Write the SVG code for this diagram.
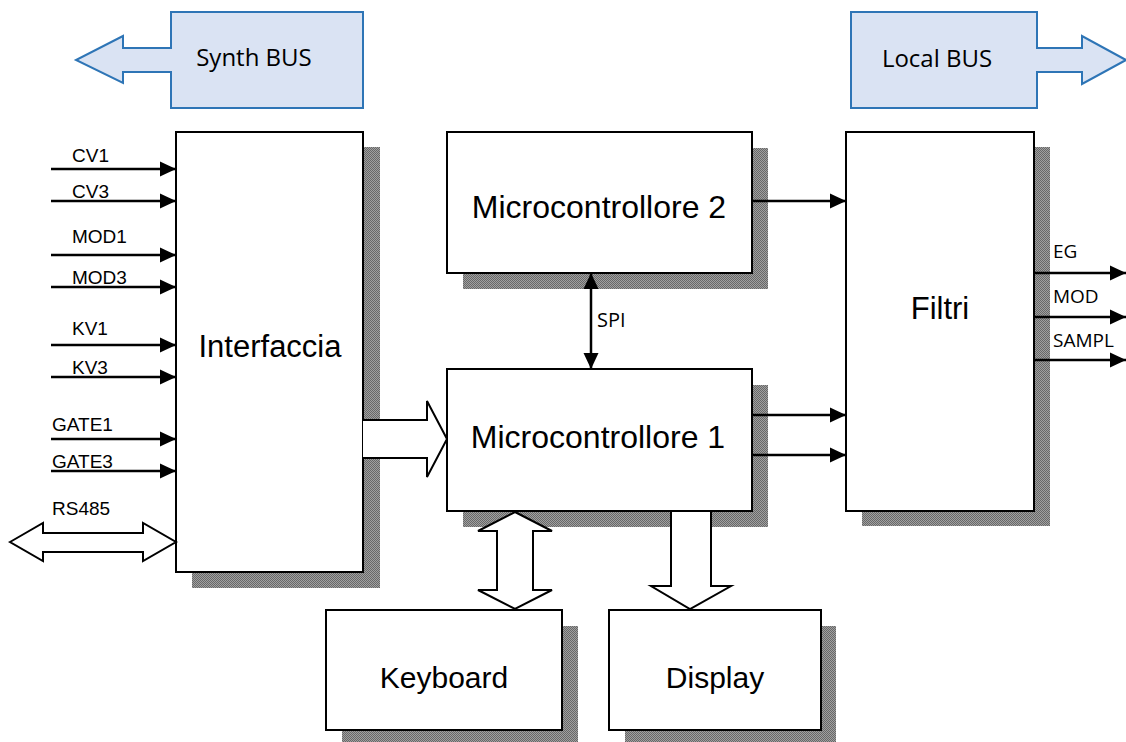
<svg xmlns="http://www.w3.org/2000/svg" width="1126" height="742" viewBox="0 0 1126 742">
  <defs>
    <!-- halftone fill used for the drop shadows -->
    <pattern id="halftone" width="2" height="2" patternUnits="userSpaceOnUse">
      <rect width="2" height="2" fill="#a0a0a0"/>
      <rect width="1" height="1" fill="#686868"/>
      <rect x="1" y="1" width="1" height="1" fill="#686868"/>
    </pattern>
    <marker id="head" viewBox="0 0 16 16" refX="16" refY="8" markerWidth="16" markerHeight="16" markerUnits="userSpaceOnUse" orient="auto-start-reverse">
      <path d="M0,0.5 L16,8 L0,15.5 Z" fill="#000"/>
    </marker>
    <style>
      .box { fill: #fff; stroke: #000; stroke-width: 2; }
      .shadow { fill: url(#halftone); }
      .bus { fill: #dae3f3; stroke: #2e75b6; stroke-width: 2; stroke-linejoin: miter; }
      .hollow { fill: #fff; stroke: #000; stroke-width: 2; stroke-linejoin: miter; }
      .wire { stroke: #000; stroke-width: 2.5; fill: none; marker-end: url(#head); }
      .title { font-family: "Liberation Sans", Arial, sans-serif; font-size: 31px; fill: #000; text-anchor: middle; }
      .busText { font-family: "Open Sans", "Liberation Sans", sans-serif; font-size: 24px; fill: #000; text-anchor: middle; }
      .sig { font-family: "Liberation Sans", Arial, sans-serif; font-size: 19px; fill: #000; }
      .sigR { font-family: "Open Sans", "Liberation Sans", sans-serif; font-size: 19px; fill: #000; }
    </style>
  </defs>

  <rect width="1126" height="742" fill="#fff"/>

  <!-- bus indicators -->
  <g id="synth-bus">
    <path class="bus" d="M171,12 L363,12 L363,108 L171,108 L171,72 L123,72 L123,83 L76,60 L123,36 L123,48 L171,48 Z"/>
    <text class="busText" x="254" y="66">Synth BUS</text>
  </g>
  <g id="local-bus">
    <path class="bus" d="M851,12 L1037,12 L1037,48 L1082,48 L1082,36 L1126,60 L1082,84 L1082,72 L1037,72 L1037,108 L851,108 Z"/>
    <text class="busText" x="937" y="67">Local BUS</text>
  </g>

  <!-- blocks -->
  <g id="interfaccia">
    <rect class="shadow" x="192" y="147" width="188" height="441"/>
    <rect class="box" x="176" y="132" width="187" height="440"/>
    <text class="title" x="270" y="357">Interfaccia</text>
  </g>
  <g id="micro2">
    <rect class="shadow" x="463" y="148" width="305" height="141"/>
    <rect class="box" x="447" y="132" width="305" height="141"/>
    <text class="title" x="599" y="218" style="font-size:32px">Microcontrollore 2</text>
  </g>
  <g id="micro1">
    <rect class="shadow" x="463" y="385" width="305" height="142"/>
    <rect class="box" x="447" y="369" width="305" height="142"/>
    <text class="title" x="598" y="448" style="font-size:32px">Microcontrollore 1</text>
  </g>
  <g id="filtri">
    <rect class="shadow" x="862" y="147" width="188" height="379"/>
    <rect class="box" x="846" y="132" width="188" height="379"/>
    <text class="title" x="940" y="319">Filtri</text>
  </g>
  <g id="keyboard">
    <rect class="shadow" x="342" y="626" width="236" height="116"/>
    <rect class="box" x="326" y="610" width="236" height="120"/>
    <text class="title" x="444" y="688" style="font-size:30px">Keyboard</text>
  </g>
  <g id="display">
    <rect class="shadow" x="625" y="626" width="211" height="116"/>
    <rect class="box" x="609" y="610" width="212" height="120"/>
    <text class="title" x="715" y="688" style="font-size:30px">Display</text>
  </g>

  <!-- connectors -->
  <g id="connectors">
    <!-- inputs to Interfaccia -->
    <line class="wire" x1="51" y1="169" x2="176" y2="169"/>
    <line class="wire" x1="51" y1="201" x2="176" y2="201"/>
    <line class="wire" x1="51" y1="255" x2="176" y2="255"/>
    <line class="wire" x1="51" y1="287" x2="176" y2="287"/>
    <line class="wire" x1="51" y1="345" x2="176" y2="345"/>
    <line class="wire" x1="51" y1="377" x2="176" y2="377"/>
    <line class="wire" x1="51" y1="439" x2="176" y2="439"/>
    <line class="wire" x1="51" y1="471" x2="176" y2="471"/>
    <path class="hollow" d="M10,542 L43,523 L43,533 L143,533 L143,523 L176,542 L143,561 L143,552 L43,552 L43,561 Z"/>

    <!-- Interfaccia to Microcontrollore 1 -->
    <path class="hollow" d="M363,420 L427,420 L427,401 L447,439 L427,477 L427,458 L363,458"/>

    <!-- SPI link -->
    <line class="wire" x1="591" y1="273" x2="591" y2="369" style="marker-start:url(#head)"/>

    <!-- microcontrollers to Filtri -->
    <line class="wire" x1="752" y1="201" x2="846" y2="201"/>
    <line class="wire" x1="752" y1="415" x2="846" y2="415"/>
    <line class="wire" x1="752" y1="455" x2="846" y2="455"/>

    <!-- Filtri outputs -->
    <line class="wire" x1="1034" y1="273" x2="1126" y2="273"/>
    <line class="wire" x1="1034" y1="317" x2="1126" y2="317"/>
    <line class="wire" x1="1034" y1="360" x2="1126" y2="360"/>

    <!-- Microcontrollore 1 to Keyboard / Display -->
    <path class="hollow" d="M515,512 L552,531 L533,531 L533,590 L552,590 L515,609 L478,590 L497,590 L497,531 L478,531 Z"/>
    <path class="hollow" d="M671,511 L711,511 L711,586 L731,586 L690,609 L651,586 L671,586 Z"/>
  </g>

  <!-- signal labels -->
  <g id="labels">
    <text class="sig" x="72" y="162">CV1</text>
    <text class="sig" x="72" y="198">CV3</text>
    <text class="sig" x="72" y="243">MOD1</text>
    <text class="sig" x="72" y="284">MOD3</text>
    <text class="sig" x="72" y="335">KV1</text>
    <text class="sig" x="72" y="374">KV3</text>
    <text class="sig" x="52" y="431">GATE1</text>
    <text class="sig" x="52" y="468">GATE3</text>
    <text class="sig" x="52" y="515">RS485</text>
    <text class="sigR" x="597" y="327" style="font-size:20px">SPI</text>
    <text class="sigR" x="1053" y="258">EG</text>
    <text class="sigR" x="1053" y="303">MOD</text>
    <text class="sigR" x="1053" y="347">SAMPL</text>
  </g>
</svg>
